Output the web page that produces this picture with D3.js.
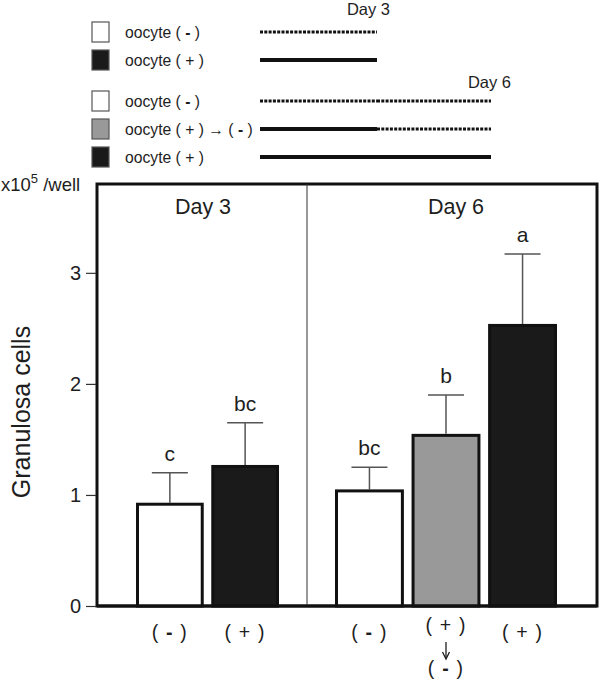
<!DOCTYPE html>
<html><head><meta charset="utf-8">
<script src="https://cdn.jsdelivr.net/npm/d3@7"></script>
<style>body{margin:0;background:#fff}svg{display:block;font-family:"Liberation Sans",Arial,sans-serif}</style>
</head><body><svg id="c" width="600" height="681"></svg>
<script>
// Data
const day3Categories = ["(-)", "(+)"];
const day3Values = [0.93, 1.27];
const day3ErrTop = [1.20, 1.65];
const day3Letters = ["c", "bc"];
const day3Fills = ["#ffffff", "#1a1a1a"];

const day6Categories = ["(-)", "(+)→(-)", "(+)"];
const day6Values = [1.05, 1.55, 2.54];
const day6ErrTop = [1.25, 1.90, 3.17];
const day6Letters = ["bc", "b", "a"];
const day6Fills = ["#ffffff", "#999999", "#1a1a1a"];

const yTicks = [0, 1, 2, 3];
const legendDay3 = [{label:["oocyte ( ","-"," )"], fill:"#ffffff", pattern:["dot"]},{label:["oocyte ( + )"], fill:"#1a1a1a", pattern:["solid"]}];
const legendDay6 = [{label:["oocyte ( ","-"," )"], fill:"#ffffff", pattern:["dot","dot"]},{label:["oocyte ( + ) \u2192 ( ","-"," )"], fill:"#999999", pattern:["solid","dot"]},{label:["oocyte ( + )"], fill:"#1a1a1a", pattern:["solid","solid"]}];

const svg = d3.select("#c");
const ink = "#1e1e1e";
const frame = {left:97, right:597, top:184, bottom:606, divider:307};
const y = d3.scaleLinear().domain([0, 3.8]).range([frame.bottom, frame.top]);

// text with a bold minus part
function richText(sel, parts) {
  parts.forEach(p => sel.append("tspan").attr("font-weight", p === "-" ? "bold" : null).text(p));
  return sel;
}

// Legend
const lx = d3.scaleLinear().domain([0, 1, 2]).range([260, 377, 491]);
function legendRows(data, y0) {
  data.forEach((d, i) => {
    const cy = y0 + i * 28;
    svg.append("rect").attr("x", 92).attr("y", cy - 10).attr("width", 17).attr("height", 20)
      .attr("fill", d.fill).attr("stroke", "#555").attr("stroke-width", 1.2);
    richText(svg.append("text").attr("x", 125).attr("y", cy + 6).attr("font-size", 15.7).attr("fill", ink).attr("xml:space", "preserve"), d.label);
    d.pattern.forEach((p, j) => {
      const x1 = lx(j), x2 = lx(j + 1);
      const l = svg.append("line").attr("x1", x1).attr("x2", x2).attr("y1", cy).attr("y2", cy).attr("stroke", "#111");
      if (p === "solid") l.attr("stroke-width", 4);
      else l.attr("stroke-width", 3).attr("stroke-dasharray", "3,1.3");
    });
  });
}
legendRows(legendDay3, 32);
legendRows(legendDay6, 101);
svg.append("text").attr("x", 390).attr("y", 15).attr("text-anchor", "end").attr("font-size", 16.5).attr("fill", ink).text("Day 3");
svg.append("text").attr("x", 511).attr("y", 88).attr("text-anchor", "end").attr("font-size", 16.5).attr("fill", ink).text("Day 6");

// Frame
svg.append("rect").attr("x", frame.left).attr("y", frame.top).attr("width", frame.right - frame.left).attr("height", frame.bottom - frame.top)
  .attr("fill", "none").attr("stroke", "#111").attr("stroke-width", 3);
svg.append("line").attr("x1", frame.divider).attr("x2", frame.divider).attr("y1", frame.top).attr("y2", frame.bottom).attr("stroke", "#333").attr("stroke-width", 1);

// Y axis
const yAxis = d3.axisLeft(y).tickValues(yTicks).tickSize(10).tickPadding(5).tickFormat(d3.format("d"));
const ya = svg.append("g").attr("transform", `translate(${frame.left - 1},0)`).call(yAxis);
ya.select(".domain").remove();
ya.selectAll("line").attr("stroke", "#333").attr("stroke-width", 1.2);
ya.selectAll("text").attr("font-size", 20).attr("fill", ink).attr("font-family", "Liberation Sans, Arial, sans-serif");

svg.append("text").attr("transform", `translate(30,412) rotate(-90)`).attr("text-anchor", "middle")
  .attr("font-size", 25).attr("fill", ink).text("Granulosa cells");
const unit = svg.append("text").attr("x", 1).attr("y", 191).attr("font-size", 18.5).attr("fill", ink);
unit.append("tspan").text("x10");
unit.append("tspan").attr("dy", -8).attr("font-size", 13).text("5");
unit.append("tspan").attr("dy", 8).text(" /well");

// Panels
function panel(cats, vals, errs, letters, fills, range, title, titleX) {
  const x = d3.scaleBand().domain(cats).range(range).paddingInner(0.1).paddingOuter(0);
  svg.append("text").attr("x", titleX).attr("y", 214).attr("text-anchor", "middle").attr("font-size", 21.5).attr("fill", ink).text(title);
  const g = svg.append("g");
  cats.forEach((c, i) => {
    const cx = x(c) + x.bandwidth() / 2;
    // error bar
    g.append("line").attr("x1", cx).attr("x2", cx).attr("y1", y(vals[i])).attr("y2", y(errs[i])).attr("stroke", "#555").attr("stroke-width", 1.5);
    g.append("line").attr("x1", cx - 18).attr("x2", cx + 18).attr("y1", y(errs[i])).attr("y2", y(errs[i])).attr("stroke", "#555").attr("stroke-width", 1.5);
    // bar
    g.append("rect").attr("x", x(c) + 1.5).attr("y", y(vals[i]) + 1.5).attr("width", x.bandwidth() - 3).attr("height", y(0) - y(vals[i]) - 1.5)
      .attr("fill", fills[i]).attr("stroke", "#111").attr("stroke-width", 3);
    // letter
    g.append("text").attr("x", cx).attr("y", y(errs[i]) - 12).attr("text-anchor", "middle").attr("font-size", 21).attr("fill", ink).text(letters[i]);
    // x labels
    const parts = c.split("→");
    const lab = (yy, s) => {
      const sym = s.replace(/[()]/g, "");
      richText(svg.append("text").attr("x", cx).attr("y", yy).attr("text-anchor", "middle").attr("font-size", 19.5)
        .attr("letter-spacing", 1.2).attr("fill", ink).attr("xml:space", "preserve"), ["( ", sym, " )"]);
    };
    lab(parts.length > 1 ? 632 : 639, parts[0]);
    if (parts.length > 1) {
      svg.append("line").attr("x1", cx).attr("x2", cx).attr("y1", 642).attr("y2", 658).attr("stroke", ink).attr("stroke-width", 1.3);
      svg.append("path").attr("d", `M${cx - 3.5},${652}L${cx},${659}L${cx + 3.5},${652}`).attr("fill", "none").attr("stroke", ink).attr("stroke-width", 1.3);
      lab(675, parts[1]);
    }
  });
}
panel(day3Categories, day3Values, day3ErrTop, day3Letters, day3Fills, [136, 279], "Day 3", 203);
panel(day6Categories, day6Values, day6ErrTop, day6Letters, day6Fills, [335, 557], "Day 6", 456);

// redraw frame bottom on top of bars
svg.append("line").attr("x1", frame.left).attr("x2", frame.right).attr("y1", frame.bottom).attr("y2", frame.bottom).attr("stroke", "#111").attr("stroke-width", 3);
</script></body></html>
